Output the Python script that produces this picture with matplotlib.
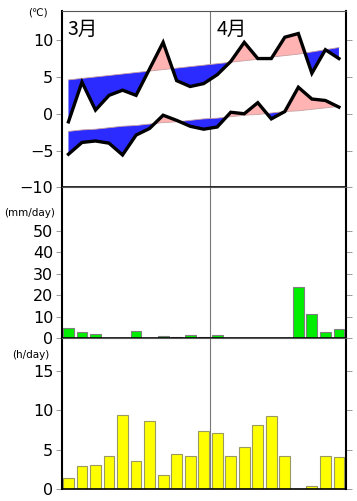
import numpy as np
import matplotlib.pyplot as plt

# 3/21 - 4/10 の日別データ
days = np.arange(21)
t_max = [-1.1, 4.3, 0.5, 2.5, 3.2, 2.5, 6.1, 9.7, 4.5, 3.7, 4.1,
         5.3, 7.1, 9.7, 7.5, 7.5, 10.4, 10.9, 5.5, 8.7, 7.5]
t_max_norm = [4.6, 4.8, 5.0, 5.2, 5.4, 5.6, 5.8, 6.0, 6.2, 6.4, 6.6,
              6.8, 7.0, 7.2, 7.4, 7.7, 7.9, 8.1, 8.4, 8.7, 9.0]
t_min = [-5.5, -3.9, -3.7, -4.0, -5.6, -2.9, -2.0, -0.2, -0.9, -1.7, -2.1,
         -1.8, 0.2, 0.0, 1.5, -0.7, 0.3, 3.6, 2.0, 1.8, 0.9]
t_min_norm = [-2.4, -2.2, -2.1, -1.9, -1.7, -1.6, -1.4, -1.2, -1.1, -0.9, -0.7,
              -0.6, -0.4, -0.2, -0.1, 0.1, 0.3, 0.4, 0.6, 0.8, 1.0]
precip = [4.5, 2.9, 1.7, 0.0, 0.0, 3.3, np.nan, 0.9, 0.3, 1.2, 0.3,
          1.2, 0.0, 0.0, 0.0, 0.0, 0.0, 23.6, 11.2, 2.6, 4.2]
sunshine = [1.35, 2.9, 3.0, 4.2, 9.4, 3.6, 8.7, 1.8, 4.5, 4.2, 7.4,
            7.15, 4.2, 5.3, 8.1, 9.25, 4.2, 0.0, 0.4, 4.2, 4.1]
month_start = 10.5  # 4/1 の境界
month_labels = ['3月', '4月']

plt.rcParams['font.family'] = ['DejaVu Sans', 'Noto Sans CJK JP']

fig = plt.figure(figsize=(3.57, 5.01), dpi=100)
L, W = 0.1728, 0.7955
ax1 = fig.add_axes([L, 0.6261, W, 0.3525])
ax2 = fig.add_axes([L, 0.3253, W, 0.3008])
ax3 = fig.add_axes([L, 0.0240, W, 0.3014])


def style(ax, ymin, ymax, ticks):
    ax.set_xlim(-0.5, 20.5)
    ax.set_ylim(ymin, ymax)
    ax.set_yticks(ticks)
    ax.set_xticks([])
    ax.tick_params(axis='y', direction='out', length=4, color='#999999',
                   width=0.7, labelsize=11.5, pad=2, right=True, labelright=False)
    for s in ['left', 'right']:
        ax.spines[s].set_linewidth(1.5)
        ax.spines[s].set_color('black')
    ax.spines['top'].set_linewidth(0.8)
    ax.spines['top'].set_color('#555555')
    ax.spines['bottom'].set_linewidth(1.2)
    ax.spines['bottom'].set_color('black')
    ax.axvline(month_start, color='#777777', lw=0.8, zorder=1)


# 気温
tx = np.array(t_max); txn = np.array(t_max_norm)
tn = np.array(t_min); tnn = np.array(t_min_norm)
for v, n in [(tx, txn), (tn, tnn)]:
    ax1.fill_between(days, v, n, where=v < n, interpolate=True,
                     color='#2b2bff', lw=0, zorder=2)
    ax1.fill_between(days, v, n, where=v >= n, interpolate=True,
                     color='#ffb3b3', lw=0, zorder=2)
    ax1.plot(days, n, color='#c8a0a0', lw=0.6, zorder=3)
    ax1.plot(days, v, color='black', lw=2.4, zorder=4, solid_joinstyle='miter')
style(ax1, -10, 14, [-10, -5, 0, 5, 10])
ax1.text(-0.05, 12.9, month_labels[0], fontsize=14, va='top', ha='left',
         family='Noto Sans CJK JP')
ax1.text(month_start + 0.45, 12.9, month_labels[1], fontsize=14, va='top', ha='left',
         family='Noto Sans CJK JP')
fig.text(0.08, 0.976, '(℃)', fontsize=7.5, ha='left', va='center')

# 降水量
ax2.bar(days, precip, width=0.8, color='#00ee00', edgecolor='#808080',
        lw=0.8, zorder=2)
style(ax2, 0, 70.2, [0, 10, 20, 30, 40, 50])
fig.text(0.012, 0.575, '(mm/day)', fontsize=7.5, ha='left', va='center')

# 日照時間
ax3.bar(days, sunshine, width=0.8, color='#ffff00', edgecolor='#9a9a60',
        lw=0.8, zorder=2)
style(ax3, 0, 19.2, [0, 5, 10, 15])
fig.text(0.035, 0.292, '(h/day)', fontsize=7.5, ha='left', va='center')

fig.savefig('out.png', dpi=100)
